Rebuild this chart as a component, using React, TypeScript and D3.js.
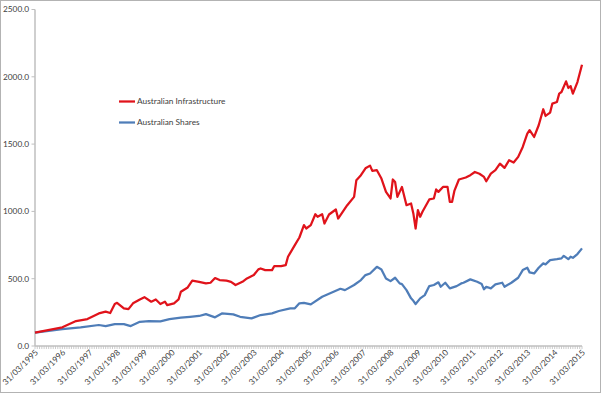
import React, { useEffect, useRef } from "react";
import * as d3 from "d3";

// months since 31/03/1995
const infraMonths = [0, 12, 18, 23, 28, 31, 33, 35, 36, 39, 41, 43, 46, 48, 51, 53, 55, 57, 58, 61, 63, 64, 67, 69, 72, 75, 77, 79, 81, 84, 86, 88, 91, 93, 96, 98, 99, 101, 104, 105, 108, 110, 111, 114, 116, 118, 119, 121, 123, 124, 126, 127, 129, 132, 133, 135, 137, 140, 141, 143, 145, 147, 148, 150, 152, 154, 156, 157, 158, 159, 161, 163, 165, 166, 167, 168, 169, 170, 173, 175, 176, 177, 179, 181, 182, 183, 184, 186, 189, 191, 193, 195, 197, 198, 200, 202, 204, 206, 208, 210, 212, 214, 216, 217, 219, 221, 223, 224, 226, 227, 229, 230, 231, 233, 234, 235, 236, 238, 240];
const infraValues = [100, 139, 185, 200, 242, 255, 245, 312, 321, 280, 274, 317, 346, 363, 329, 346, 312, 329, 304, 317, 346, 403, 435, 485, 477, 465, 470, 505, 490, 485, 477, 453, 477, 502, 527, 569, 576, 564, 564, 594, 594, 601, 663, 749, 806, 898, 873, 898, 979, 960, 979, 910, 977, 1014, 947, 997, 1046, 1108, 1232, 1269, 1320, 1340, 1301, 1306, 1244, 1145, 1096, 1237, 1219, 1108, 1182, 1046, 1059, 985, 873, 1009, 960, 997, 1089, 1096, 1163, 1145, 1182, 1182, 1071, 1071, 1152, 1237, 1252, 1269, 1293, 1280, 1256, 1224, 1281, 1306, 1355, 1323, 1380, 1363, 1405, 1479, 1578, 1603, 1553, 1640, 1759, 1709, 1734, 1801, 1813, 1875, 1887, 1966, 1917, 1931, 1875, 1961, 2090];

const sharesMonths = [0, 12, 20, 28, 31, 35, 39, 42, 46, 50, 55, 59, 64, 68, 72, 75, 79, 82, 87, 90, 95, 99, 104, 107, 112, 114, 116, 118, 121, 126, 131, 134, 136, 140, 143, 145, 147, 150, 152, 154, 156, 158, 160, 161, 163, 165, 166, 167, 169, 171, 173, 175, 177, 178, 180, 182, 185, 187, 188, 191, 194, 196, 197, 198, 200, 202, 205, 206, 209, 212, 214, 216, 217, 219, 221, 223, 224, 226, 229, 231, 232, 234, 235, 236, 238, 240];
const sharesValues = [100, 126, 139, 156, 148, 163, 163, 148, 180, 185, 183, 200, 210, 217, 223, 237, 213, 242, 235, 217, 205, 230, 242, 260, 280, 280, 317, 321, 309, 366, 403, 425, 415, 453, 490, 527, 539, 588, 569, 502, 482, 507, 465, 460, 415, 354, 336, 312, 354, 378, 445, 453, 473, 440, 470, 428, 445, 465, 470, 495, 477, 460, 421, 440, 428, 458, 470, 440, 470, 507, 564, 581, 547, 539, 581, 614, 606, 638, 645, 651, 670, 645, 663, 655, 683, 725];

const yTicks = [0, 500, 1000, 1500, 2000, 2500];
const yearLabels = d3.range(1995, 2016).map((y) => `31/03/${y}`);
const seriesNames = ["Australian Infrastructure", "Australian Shares"];

const W = 601;
const H = 393;
const left = 35;
const right = 582;
const top = 9.5;
const bottom = 346;
const RED = "#e0131b";
const BLUE = "#4f7db8";
const FONT = "Lato, 'Open Sans', sans-serif";

export default function App() {
  const ref = useRef<SVGSVGElement | null>(null);
  useEffect(() => {
    const svg = d3.select(ref.current);
    svg.selectAll("*").remove();
    const x = d3.scaleLinear().domain([0, 240]).range([left, right]);
    const y = d3.scaleLinear().domain([0, 2500]).range([bottom, top]);

    svg.append("rect").attr("x", 0.5).attr("y", 0.5).attr("width", W - 1).attr("height", H - 1)
      .attr("fill", "white").attr("stroke", "#b3b3b3");

    // y axis
    svg.append("line").attr("x1", left).attr("x2", left).attr("y1", top).attr("y2", bottom)
      .attr("stroke", "#bfbfbf").attr("stroke-width", 1.5);
    const yg = svg.append("g");
    yTicks.forEach((t) => {
      yg.append("line").attr("x1", left - 3.5).attr("x2", left).attr("y1", y(t)).attr("y2", y(t))
        .attr("stroke", "#bfbfbf");
      yg.append("text").attr("x", left - 6).attr("y", y(t)).attr("dy", "0.35em")
        .attr("text-anchor", "end").attr("font-size", 8.3).attr("font-family", FONT)
        .attr("fill", "#404040").text(d3.format(".1f")(t));
    });

    // x axis
    svg.append("line").attr("x1", left).attr("x2", right).attr("y1", bottom).attr("y2", bottom)
      .attr("stroke", "#bfbfbf").attr("stroke-width", 1.5);
    const xg = svg.append("g");
    d3.range(0, 241).forEach((m) => {
      xg.append("line").attr("x1", x(m)).attr("x2", x(m)).attr("y1", bottom).attr("y2", bottom + 3)
        .attr("stroke", "#bfbfbf").attr("stroke-width", 0.8);
    });
    yearLabels.forEach((lab, i) => {
      const px = x(i * 12);
      xg.append("text").attr("transform", `translate(${px + 1.5},${bottom + 5}) rotate(-45)`)
        .attr("text-anchor", "end").attr("dy", "0.35em").attr("font-size", 8.3)
        .attr("font-family", FONT).attr("fill", "#404040").text(lab);
    });

    const line = d3.line<[number, number]>().x((d) => x(d[0])).y((d) => y(d[1]));
    const infra: [number, number][] = infraMonths.map((m, i) => [m, infraValues[i]]);
    const shares: [number, number][] = sharesMonths.map((m, i) => [m, sharesValues[i]]);
    svg.append("path").attr("d", line(shares)).attr("fill", "none").attr("stroke", BLUE)
      .attr("stroke-width", 2.25).attr("stroke-linejoin", "round");
    svg.append("path").attr("d", line(infra)).attr("fill", "none").attr("stroke", RED)
      .attr("stroke-width", 2.25).attr("stroke-linejoin", "round");

    // legend
    const colors = [RED, BLUE];
    seriesNames.forEach((name, i) => {
      const ly = 101.5 + i * 21;
      svg.append("line").attr("x1", 119).attr("x2", 135).attr("y1", ly).attr("y2", ly)
        .attr("stroke", colors[i]).attr("stroke-width", 2.25);
      svg.append("text").attr("x", 137).attr("y", ly).attr("dy", "0.35em")
        .attr("font-size", 8.3).attr("font-family", FONT).attr("fill", "#404040").text(name);
    });
  }, []);
  return (
    <svg ref={ref} width={W} height={H} style={{ position: "absolute", left: 0, top: 0 }} />
  );
}
